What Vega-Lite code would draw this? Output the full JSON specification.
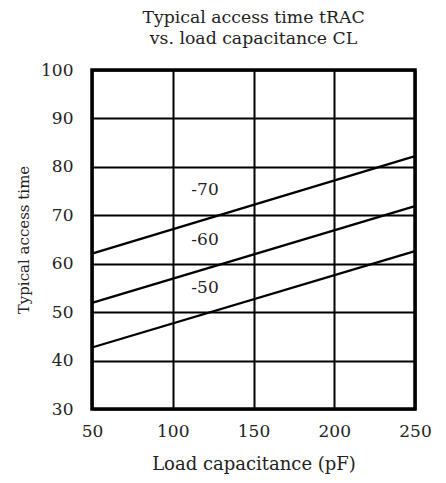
{
  "$schema": "https://vega.github.io/schema/vega-lite/v6.json",
  "width": 323,
  "height": 339,
  "autosize": "none",
  "padding": {"left": 92, "top": 70, "right": 31, "bottom": 74},
  "background": "white",
  "config": {
    "font": "DejaVu Serif",
    "view": {"stroke": "black", "strokeWidth": 3.5},
    "axis": {
      "grid": true,
      "gridColor": "black",
      "gridWidth": 2,
      "gridOpacity": 1,
      "domain": false,
      "ticks": false,
      "labelFont": "DejaVu Serif",
      "labelFontSize": 17,
      "labelColor": "#222",
      "labelFlush": false,
      "titleFont": "DejaVu Serif",
      "titleFontWeight": "normal",
      "titleColor": "#222"
    }
  },
  "title": {
    "text": ["Typical access time tRAC", "vs. load capacitance CL"],
    "font": "DejaVu Serif",
    "fontSize": 17.3,
    "fontWeight": "normal",
    "color": "#222",
    "anchor": "middle",
    "lineHeight": 21,
    "offset": 14
  },
  "datasets": {
    "curves": [
      {"capacitance": 50, "time": 62.1, "grade": "-70"},
      {"capacitance": 250, "time": 82.2, "grade": "-70"},
      {"capacitance": 50, "time": 51.9, "grade": "-60"},
      {"capacitance": 250, "time": 71.9, "grade": "-60"},
      {"capacitance": 50, "time": 42.7, "grade": "-50"},
      {"capacitance": 250, "time": 62.6, "grade": "-50"}
    ],
    "labels": [
      {"capacitance": 120, "time": 75.3, "grade": "-70"},
      {"capacitance": 120, "time": 64.8, "grade": "-60"},
      {"capacitance": 120, "time": 54.9, "grade": "-50"}
    ]
  },
  "layer": [
    {
      "data": {"name": "curves"},
      "mark": {"type": "line", "color": "black", "strokeWidth": 2.3},
      "encoding": {
        "x": {
          "field": "capacitance",
          "type": "quantitative",
          "scale": {"domain": [50, 250], "nice": false, "zero": false},
          "axis": {"values": [50, 100, 150, 200, 250], "title": "Load capacitance (pF)", "titleFontSize": 18, "labelPadding": 14, "titlePadding": 16}
        },
        "y": {
          "field": "time",
          "type": "quantitative",
          "scale": {"domain": [30, 100], "nice": false, "zero": false},
          "axis": {"values": [30, 40, 50, 60, 70, 80, 90, 100], "title": "Typical access time", "titleFontSize": 15, "labelPadding": 19, "titlePadding": 9}
        },
        "detail": {"field": "grade"}
      }
    },
    {
      "data": {"name": "labels"},
      "mark": {"type": "text", "font": "DejaVu Serif", "fontSize": 17, "color": "#222"},
      "encoding": {
        "x": {"field": "capacitance", "type": "quantitative"},
        "y": {"field": "time", "type": "quantitative"},
        "text": {"field": "grade"}
      }
    }
  ]
}
